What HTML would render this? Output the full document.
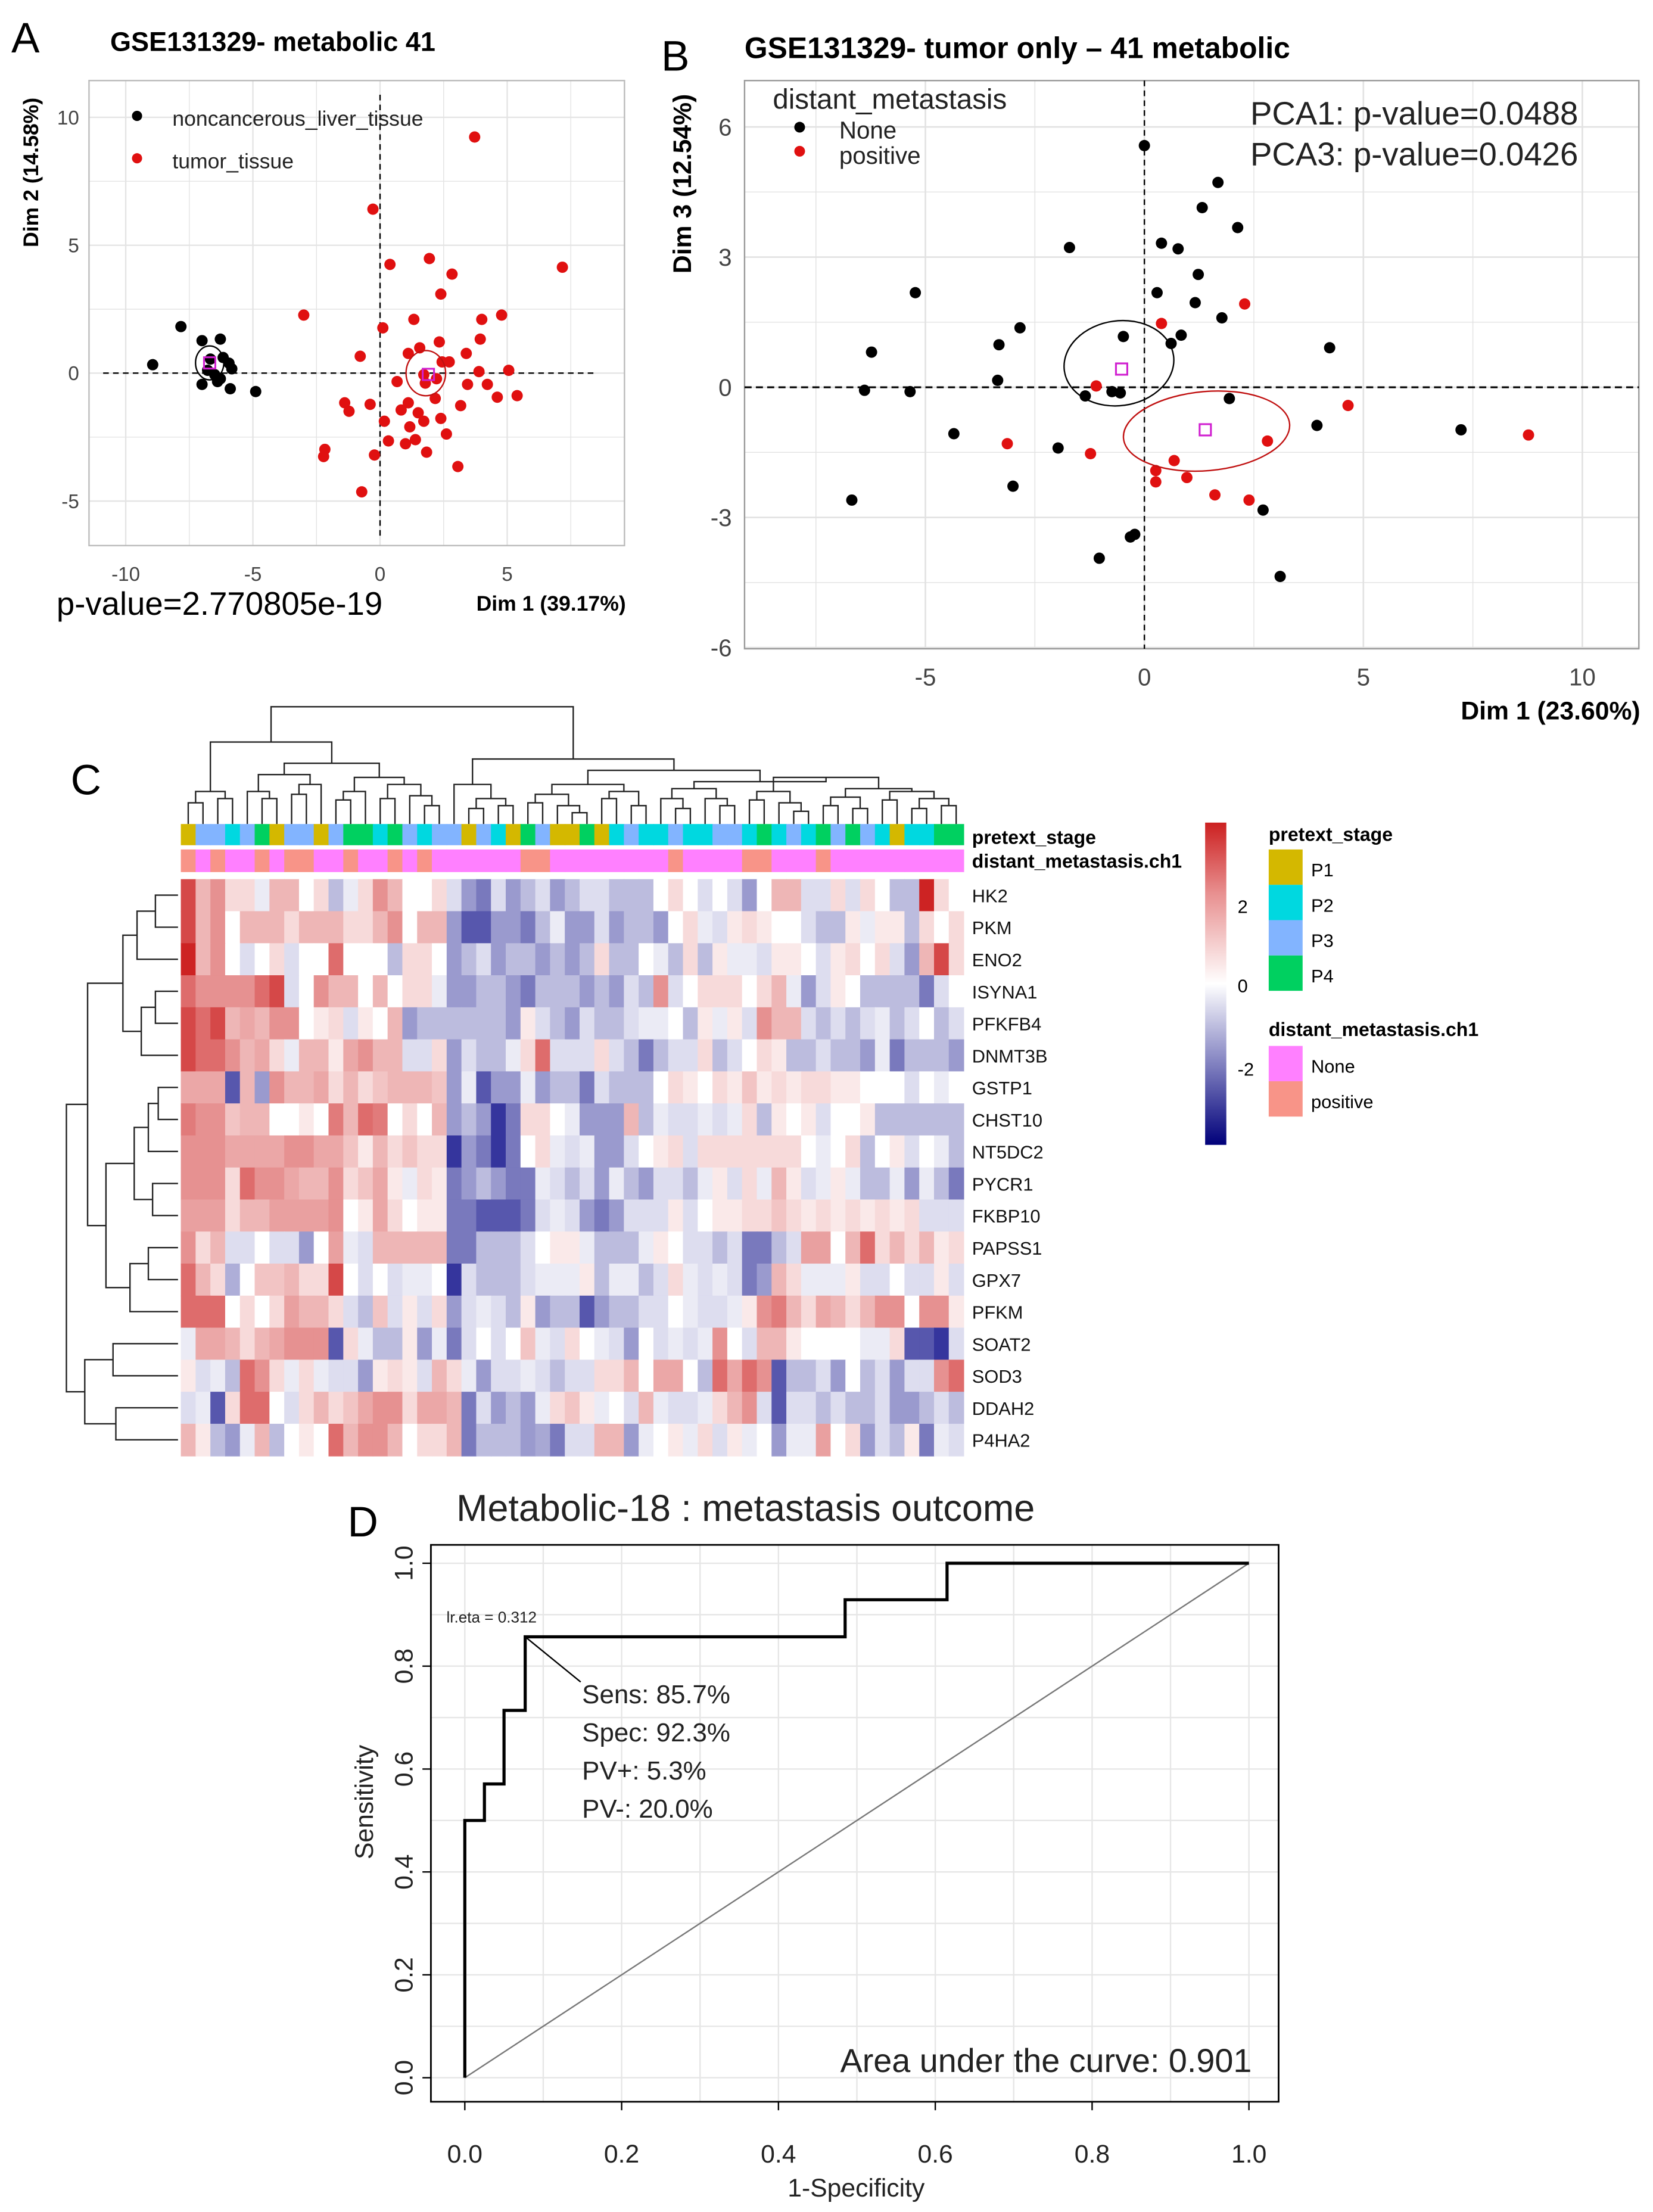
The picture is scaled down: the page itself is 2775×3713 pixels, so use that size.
<!DOCTYPE html>
<html><head><meta charset="utf-8"><style>
html,body{margin:0;padding:0;background:#fff;}
svg{display:block;font-family:"Liberation Sans",sans-serif;}
</style></head><body>
<svg id="fig" xmlns="http://www.w3.org/2000/svg" width="2775" height="3713" viewBox="0 0 1170 1565" preserveAspectRatio="none"></svg>
<script>
// ---------- Panel A data ----------
const aBlackX=[-8.94,-7.83,-7.0,-6.28,-6.17,-5.94,-5.83,-6.67,-6.78,-6.5,-7.0,-6.39,-6.28,-5.89,-4.89];
const aBlackY=[0.33,1.82,1.27,1.33,0.61,0.39,0.17,0.55,0.11,-0.06,-0.44,-0.33,-0.22,-0.61,-0.72];
const aRedX=[3.72,-0.28,0.39,1.94,2.83,2.39,-3.0,4.78,4.0,1.33,0.11,3.94,2.33,1.56,1.11,3.39,-0.78,2.72,3.89,5.06,1.72,2.22,0.67,1.78,3.44,4.22,5.39,-1.39,-0.39,1.11,3.17,0.83,1.5,2.39,-1.22,1.72,0.17,1.17,2.61,0.33,1.39,1.0,3.06,-2.17,-2.22,-0.22,1.83,-0.72,4.61,2.17,2.44,7.17];
const aRedY=[9.23,6.41,4.25,4.48,3.87,3.09,2.27,2.27,2.1,2.1,1.77,1.33,1.22,0.99,0.77,0.77,0.66,0.44,0.06,0.11,-0.06,-0.22,-0.33,-0.39,-0.44,-0.44,-0.88,-1.16,-1.22,-1.16,-1.27,-1.44,-1.55,-1.77,-1.49,-1.88,-1.88,-2.1,-2.38,-2.65,-2.6,-2.76,-3.65,-2.98,-3.26,-3.2,-3.09,-4.64,-0.94,-0.99,0.44,4.14];
const aXTicks=[-10,-5,0,5];
const aYTicks=[-5,0,5,10];
// ---------- Panel B data ----------
const bNoneX=[0,1.68,1.32,2.13,-1.71,0.39,0.77,1.23,-5.23,0.29,1.16,1.77,-2.84,-3.32,0.61,4.23,-6.23,-0.48,0.84,-3.35,-6.39,-5.35,-0.74,-0.55,-1.35,1.94,3.94,7.23,-4.35,-1.97,-3.0,-6.68,2.71,-0.32,-0.22,-1.03,3.1];
const bNoneY=[5.57,4.72,4.14,3.68,3.22,3.32,3.19,2.6,2.18,2.18,1.95,1.6,1.37,0.98,1.01,0.91,0.81,1.17,1.2,0.16,-0.07,-0.1,-0.1,-0.13,-0.2,-0.26,-0.88,-0.98,-1.07,-1.4,-2.28,-2.6,-2.83,-3.45,-3.39,-3.94,-4.36];
const bPosX=[2.29,0.39,-1.1,4.65,8.77,-3.13,-1.23,2.81,0.68,0.26,0.26,0.97,1.61,2.39];
const bPosY=[1.92,1.47,0.03,-0.42,-1.1,-1.3,-1.53,-1.24,-1.69,-1.92,-2.18,-2.08,-2.48,-2.6];
const bXTicks=[-5,0,5,10];
const bYTicks=[-6,-3,0,3,6];
// ---------- Panel C data ----------
const genes=["HK2","PKM","ENO2","ISYNA1","PFKFB4","DNMT3B","GSTP1","CHST10","NT5DC2","PYCR1","FKBP10","PAPSS1","GPX7","PFKM","SOAT2","SOD3","DDAH2","P4HA2"];
const stage=[1,3,3,2,3,4,1,3,3,1,3,4,4,2,4,3,2,3,3,1,3,2,1,4,3,1,1,4,1,2,3,2,2,3,2,2,3,3,2,4,2,3,2,4,3,4,3,2,1,2,2,4,4];
const metPositive=[0,2,5,7,8,11,14,16,23,24,33,38,39,43];
const expr=[
[2.5,1,1.5,.5,.5,-.3,1,1,0,.5,-1,-.3,.5,1.5,1,0,0,.5,-.5,-1.5,-2,-.5,-1.5,-1,-.5,-1.5,-1,-.5,-.5,-1,-1,-1,0,.5,0,-.5,0,-.5,-1.5,0,1,1,-.5,-.5,.5,-.5,.5,0,-1,-1,3,.5,0],
[2.5,1,1.5,0,1,1,1,.5,1,1,1,.5,.5,1,1.5,0,1,1,-1.5,-2.5,-2.5,-1.5,-1.5,-2,-1,-.3,-1.5,-1.5,-.5,-1.5,-1,-1,-1.5,0,.5,-.3,-.5,.3,.5,.3,0,0,-.5,-1,-1,.3,-.3,.3,.3,-1,.5,0,.5],
[3,1,1.5,0,-.5,0,.5,-.5,0,0,2,0,0,0,-1,.5,.5,0,-1.5,-1,-.5,-1.5,-1,-1,-1.5,-1,-1.5,-1,.5,-1,-1,0,-.3,-1,.5,-1,.3,-.3,-.3,-.5,.3,.3,0,-.5,.3,.5,0,.5,-.5,-1.5,1,2.5,.5],
[2,1.5,1.5,1.5,1.5,2,2.5,-.5,0,1.5,1,1,0,1,0,.5,.5,-.3,-1.5,-1.5,-1,-1,-1.5,-2,-1,-1,-1,-1.5,-1,-1.5,-.5,-1,1.5,-.5,0,.5,.5,.5,0,.5,1,-.3,-1.5,-.5,.3,0,-1,-1,-1,-1,-2,-.5,0],
[2.5,2,2.5,1,1.2,1,1.5,1.5,0,.3,.5,-.5,.3,0,1,-1.5,-1,-1,-1,-1,-1,-1,-1.5,.3,-.5,-1,-1.5,-.5,-1,-1,-.5,-.3,-.3,0,-1,.3,-.3,.3,-.5,1.5,1,1,-.5,-1,-.5,-1,-.5,-.3,-1,-.5,0,-1,-.5],
[2.5,2,2,1.5,1,1.2,.5,-.3,1,1,.3,1.2,1.5,1,1,-.5,-.5,.5,-1.5,-.5,-1,-1,-.3,.5,2,-.5,-.5,-.5,.5,-.5,-1,-2,-1,-.5,-.5,.5,-1,-.5,0,.5,.3,-1,-1,-.5,-1,-1,-1.5,-.3,-2,-1,-1,-1,-1.5],
[1.2,1.2,1.2,-2.5,1,-1.5,1.5,1,1,1.2,.5,1,.5,.8,1,1,1,.8,-1.5,-.3,-2.5,-1.5,-1.5,-.3,-1.5,-1,-1,-2,-.5,-1,-1,-1,0,.5,.3,0,.5,.3,.8,.3,.5,.3,.5,.5,.3,.3,0,0,0,-.5,0,-.3,0],
[1.8,1.5,1.5,.8,1,1,0,0,.3,0,1.8,1,2,1.8,0,.5,0,1,-1.5,-1,-1.5,-3,-2,.5,.5,0,-.3,-1.5,-1.5,-1.5,1,-1,-.3,-.5,-.5,-.3,-.5,-.3,.5,-1,.3,0,.3,-.5,0,0,.3,-1,-1,-1,-1,-1,-1],
[1.5,1.5,1.5,1.2,1.2,1.2,1.2,1.5,1.5,1.2,1.2,.8,.3,1,.5,.8,.5,.5,-3,-1.5,-2,-3,-2,0,.5,-.3,-.5,-.3,-1.5,-1.5,-.5,0,.3,.5,-.5,.5,.5,.5,.5,.5,.5,.5,0,-.3,0,.5,-1,0,.3,-.5,0,-.3,-1],
[1.5,1.5,1.5,.5,2,1.5,1.5,1.2,1,1,1.5,.5,.8,1.2,.3,-.3,.5,.3,-2,-1.5,-1,-1.5,-2,-2,-.3,-.5,-1,-.5,-1.5,-.3,-1,-1.5,-.5,-.5,-1,-.3,.3,-.5,.5,-.3,1,.3,-.5,-.3,.3,-.3,-1,-1,-.3,-1.5,-.3,-1,-2],
[1.3,1.3,1.3,.5,1,1,1.3,1.3,1.3,1.3,1.5,0,.3,1.2,.5,0,.3,.3,-2,-2,-2.5,-2.5,-2.5,-2,-.5,-.3,-.5,-1.5,-2,-1.5,-.5,-.5,-.5,.3,-.5,0,.3,.3,.5,.5,.8,.5,.3,.5,.3,.5,.3,.5,.3,.5,-.5,-.5,-.5],
[1.5,.5,1,-.5,-.5,0,-.5,-.5,-1.5,0,1.3,-.3,-.5,1,1,1,1,1,-2,-2,-1,-1,-1,-.5,0,.3,.3,-.3,-1,-1,-1,-.3,.3,0,-.5,-.5,-1,-.5,-2,-2,-1,-.5,1.3,1.3,0,1,2,.5,1,.5,1,.3,.5],
[2,1,.5,-1.2,0,.8,.8,1,.5,.5,2.5,0,-.5,0,-.5,-.3,-.3,0,-3,-.5,-1,-1,-1,-.5,-.3,-.3,-.3,.3,-1,-.3,-.3,-1,-.5,.5,-.3,-.5,-.3,-.5,-2,-1.5,1,.5,-.3,-.3,-.3,.3,-.5,-.5,0,-.5,-.5,.3,-.5],
[2,2,2,0,.5,0,.5,1.3,1,1,.5,-.5,-1,.8,-.5,.3,-.5,.5,-1.5,-.5,-.3,-.5,-1,.3,-1.5,-1,-1,-2.5,-1.5,-1,-1,-.5,-.5,0,-.3,-.5,-.5,-.3,.3,1.5,1.8,1,.5,1.2,1,.5,1,1.5,1.5,0,1.5,1.5,.3],
[-.3,1.2,1.2,1,.5,1,1.2,1.5,1.5,1.5,-2.5,.5,-.3,-1,-1,.3,-1.5,-.3,-2,-.5,0,-.5,0,.8,-.3,-.5,.5,0,-.3,-.5,-1.5,0,-.5,-.3,-.5,-.3,1.5,0,-.5,1,1,.3,0,0,0,0,-.3,-.3,.5,-2.5,-2.5,-3,-.5],
[.3,-.5,-.3,-1,2,1.5,.5,-.3,.5,-.3,-.5,-.5,-1.5,.3,.5,.3,-.5,1,.5,-.3,-1.5,-.5,-.5,-.3,-.5,-1,-.5,-.5,.5,.5,1,0,1.2,1.2,0,-1,2,1.2,2,1.5,-2.5,-1,-1,-.5,-1.5,0,-1,-.5,-1.5,-.5,-.5,1.5,2],
[-.5,-.3,-2.5,.5,2,2,0,-.5,.5,1,.5,.8,1.2,1.5,1.5,.5,1.2,1.2,1,-2,-.5,-1.5,-1,-1.5,-.3,.5,.8,.3,-.3,0,-.5,1,-.3,-.5,-.5,-.3,.5,1,1.5,-.5,-2.5,-.5,-.5,-1,-.5,-1,-1,-.5,-1.5,-1.5,-1,-.5,-1],
[1,.3,-1,-1.5,-.3,1,-1,0,.3,0,2,1,1.5,1.5,1,0,.5,.5,1,-2,-1,-1,-1,-1.5,-1.3,-2,-.5,-.5,1,1,-1.5,-.3,0,.3,-.3,.5,-.5,.3,-.3,0,-1.5,-.3,-.3,1.3,0,.5,-1.5,-.5,-1,.3,-2,-.3,-.5]
];
const colTree=[500,[525,[560,[568,0,1],[565,2,3]],[540,[548,[560,4,[565,5,6]],[555,[562,7,8],9]],[550,[560,[566,10,11],12],[555,[565,13,14],[563,15,[570,16,17]]]]]],[537,[555,18,[565,[572,19,20],[570,21,22]]],[545,[555,[562,[568,23,24],[570,25,[575,26,27]]],[560,[565,28,29],[570,30,31]]],[553,[558,[565,32,[572,33,34]],[565,35,[570,36,37]]],[550,[560,[566,38,39],[568,40,[574,41,42]]],[558,[564,[570,43,44],[572,45,46]],[560,[566,47,48],[565,[572,49,50],[570,51,52]]]]]]]]];
const rowTree=[47,[62,[87,[97,[110,0,1],2],[100,[110,3,4],5]],[75,[95,[105,[112,6,7],8],[108,9,10]],[92,[105,11,12],13]]],[60,[80,14,15],[82,16,17]]];
// ---------- Panel D data ----------
const rocFpr=[0,0,0.025,0.025,0.05,0.05,0.077,0.077,0.485,0.485,0.615,0.615,1];
const rocTpr=[0,0.5,0.5,0.571,0.571,0.714,0.714,0.857,0.857,0.929,0.929,1,1];
const dTicks=[0,0.2,0.4,0.6,0.8,1.0];

const NS="http://www.w3.org/2000/svg";
const svg=document.getElementById('fig');
function mk(tag,attrs,parent){const e=document.createElementNS(NS,tag);for(const k in attrs)e.setAttribute(k,attrs[k]);(parent||svg).appendChild(e);return e;}
function txt(s,attrs,parent){const e=mk('text',attrs,parent);e.textContent=s;return e;}
function grp(){return mk('g',{});}

// ================= PANEL A =================
const A={x0:63,x1:442,y0:57,y1:386};
const ax=v=>269+v*18.0, ay=v=>264-v*18.1;
let gA=grp();


let t=txt('A',{x:8,y:37,'font-size':30},gA);


t=txt('GSE131329- metabolic 41',{x:78,y:36,'font-size':19,'font-weight':'bold'},gA);


for(let v=-10;v<=7.5;v+=2.5){let l=mk('line',{x1:ax(v),x2:ax(v),y1:A.y0,y2:A.y1,stroke:'#e4e4e4','stroke-width':v%5===0?1:0.6},gA);

}
for(let v=-5;v<=10;v+=2.5){let l=mk('line',{x1:A.x0,x2:A.x1,y1:ay(v),y2:ay(v),stroke:'#e4e4e4','stroke-width':v%5===0?1:0.6},gA);

}
let r=mk('rect',{x:A.x0,y:A.y0,width:A.x1-A.x0,height:A.y1-A.y0,fill:'none',stroke:'#bbb','stroke-width':1},gA);


let l=mk('line',{x1:A.x0+10,x2:A.x1-20,y1:ay(0),y2:ay(0),stroke:'#000','stroke-dasharray':'4,3'},gA);


l=mk('line',{x1:ax(0),x2:ax(0),y1:A.y0+10,y2:A.y1-5,stroke:'#000','stroke-dasharray':'4,3'},gA);


aXTicks.forEach(v=>{let e=txt(String(v),{x:ax(v),y:411,'font-size':14,fill:'#444','text-anchor':'middle'},gA);

});
aYTicks.forEach(v=>{let e=txt(String(v),{x:56,y:ay(v)+5,'font-size':14,fill:'#444','text-anchor':'end'},gA);

});
aBlackX.forEach((x,i)=>{let c=mk('circle',{cx:ax(x),cy:ay(aBlackY[i]),r:4,fill:'#000'},gA);

});
aRedX.forEach((x,i)=>{let c=mk('circle',{cx:ax(x),cy:ay(aRedY[i]),r:4,fill:'#e01010'},gA);

});
let e=mk('ellipse',{cx:ax(-6.7),cy:ay(0.4),rx:10,ry:12,fill:'none',stroke:'#000'},gA);


e=mk('ellipse',{cx:ax(1.8),cy:ay(0),rx:14,ry:16,fill:'none',stroke:'#c01010'},gA);


[[-6.7,0.4],[1.9,-0.05]].forEach(p=>{let q=mk('rect',{x:ax(p[0])-4,y:ay(p[1])-4,width:8,height:8,fill:'none',stroke:'#d020d0','stroke-width':1.3},gA);

});
e=mk('circle',{cx:97,cy:82,r:3.6,fill:'#000'},gA);


t=txt('noncancerous_liver_tissue',{x:122,y:89,'font-size':15,fill:'#222'},gA);


e=mk('circle',{cx:97,cy:112,r:3.6,fill:'#e01010'},gA);


t=txt('tumor_tissue',{x:122,y:119,'font-size':15,fill:'#222'},gA);


t=txt('p-value=2.770805e-19',{x:40,y:435,'font-size':23},gA);


t=txt('Dim 1 (39.17%)',{x:443,y:432,'font-size':15,'font-weight':'bold','text-anchor':'end'},gA);


t=txt('Dim 2 (14.58%)',{x:0,y:0,'font-size':15,'font-weight':'bold','text-anchor':'middle',transform:'translate(27,122) rotate(-90)'},gA);



// ================= PANEL B =================
const B={x0:527,x1:1160,y0:57,y1:459};
const bx=v=>810+v*31.0, by=v=>274-v*30.7;
let gB=grp();


t=txt('B',{x:468,y:50,'font-size':30},gB);


t=txt('GSE131329- tumor only – 41 metabolic',{x:527,y:41,'font-size':21,'font-weight':'bold'},gB);


for(let v=-7.5;v<=12.5;v+=2.5){if(bx(v)<B.x0||bx(v)>B.x1)continue;let g=mk('line',{x1:bx(v),x2:bx(v),y1:B.y0,y2:B.y1,stroke:'#e2e2e2','stroke-width':v%5===0?1.1:0.6},gB);

}
for(let v=-6;v<=6;v+=1.5){let g=mk('line',{x1:B.x0,x2:B.x1,y1:by(v),y2:by(v),stroke:'#e2e2e2','stroke-width':v%3===0?1.1:0.6},gB);

}
r=mk('rect',{x:B.x0,y:B.y0,width:B.x1-B.x0,height:B.y1-B.y0,fill:'none',stroke:'#999','stroke-width':1},gB);


l=mk('line',{x1:B.x0,x2:B.x1,y1:by(0),y2:by(0),stroke:'#000','stroke-dasharray':'5,3','stroke-width':1.3},gB);


l=mk('line',{x1:bx(0),x2:bx(0),y1:B.y0,y2:B.y1,stroke:'#000','stroke-dasharray':'4,3'},gB);


bXTicks.forEach(v=>{let q=txt(String(v),{x:bx(v),y:485,'font-size':17,fill:'#444','text-anchor':'middle'},gB);

});
bYTicks.forEach(v=>{let q=txt(String(v),{x:518,y:by(v)+6,'font-size':17,fill:'#444','text-anchor':'end'},gB);

});
bNoneX.forEach((x,i)=>{let c=mk('circle',{cx:bx(x),cy:by(bNoneY[i]),r:4,fill:'#000'},gB);

});
bPosX.forEach((x,i)=>{let c=mk('circle',{cx:bx(x),cy:by(bPosY[i]),r:4,fill:'#e01010'},gB);

});
e=mk('ellipse',{cx:792,cy:257,rx:39,ry:30,fill:'none',stroke:'#000',transform:'rotate(-8 792 257)'},gB);


e=mk('ellipse',{cx:854,cy:305,rx:59,ry:28,fill:'none',stroke:'#c01010',transform:'rotate(-5 854 305)'},gB);


[[-0.52,0.42],[1.39,-0.98]].forEach(p=>{let q=mk('rect',{x:bx(p[0])-4,y:by(p[1])-4,width:8,height:8,fill:'none',stroke:'#d020d0','stroke-width':1.3},gB);

});
t=txt('distant_metastasis',{x:547,y:77,'font-size':20,fill:'#222'},gB);


e=mk('circle',{cx:566,cy:90,r:3.8,fill:'#000'},gB);


t=txt('None',{x:594,y:98,'font-size':17,fill:'#222'},gB);


e=mk('circle',{cx:566,cy:107,r:3.8,fill:'#e01010'},gB);


t=txt('positive',{x:594,y:116,'font-size':17,fill:'#222'},gB);


t=txt('PCA1: p-value=0.0488',{x:885,y:88,'font-size':23,fill:'#222'},gB);


t=txt('PCA3: p-value=0.0426',{x:885,y:117,'font-size':23,fill:'#222'},gB);


t=txt('Dim 1 (23.60%)',{x:1161,y:509,'font-size':18,'font-weight':'bold','text-anchor':'end'},gB);


t=txt('Dim 3 (12.54%)',{x:0,y:0,'font-size':18,'font-weight':'bold','text-anchor':'middle',transform:'translate(489,130) rotate(-90)'},gB);



// ================= PANEL C =================
let gC=grp();


t=txt('C',{x:50,y:562,'font-size':30},gC);


const HX=128,HW=554,HY=622,HH=408;
const nc=expr[0].length, nr=genes.length;
const cw=HW/nc, rh=HH/nr;
const colX=i=>HX+i*cw, rowY=j=>HY+j*rh;
function heatColor(v){
  if(v>=0){const k=Math.min(v/3,1);return `rgb(${Math.round(255-50*k)},${Math.round(255-220*k)},${Math.round(255-220*k)})`;}
  const k=Math.min(-v/3.2,1);return `rgb(${Math.round(255-215*k)},${Math.round(255-215*k)},${Math.round(255-105*k)})`;
}
expr.forEach((row,j)=>row.forEach((v,i)=>{let c=mk('rect',{x:colX(i),y:rowY(j),width:cw+0.4,height:rh+0.4,fill:heatColor(v)},gC);

}));
const stageColors={1:'#d4b800',2:'#00d8e0',3:'#82b4ff',4:'#00d060'};
stage.forEach((s,i)=>{let c=mk('rect',{x:colX(i),y:583,width:cw+0.4,height:15,fill:stageColors[s]},gC);

});
for(let i=0;i<nc;i++){let c=mk('rect',{x:colX(i),y:601,width:cw+0.4,height:16,fill:metPositive.includes(i)?'#f89488':'#ff80ff'},gC);

}
genes.forEach((g,j)=>{let q=txt(g,{x:688,y:rowY(j)+rh/2+5,'font-size':13,fill:'#111'},gC);

});
t=txt('pretext_stage',{x:688,y:597,'font-size':13.5,'font-weight':'bold'},gC);


t=txt('distant_metastasis.ch1',{x:688,y:614,'font-size':13.5,'font-weight':'bold'},gC);


function drawCol(n){
  if(typeof n==='number') return {x:colX(n)+cw/2,h:583};
  const a=drawCol(n[1]), b=drawCol(n[2]);
  let p=mk('path',{d:`M${a.x},${a.h}V${n[0]}H${b.x}V${b.h}`,fill:'none',stroke:'#222','stroke-width':1},gC);
  
  
  return {x:(a.x+b.x)/2,h:n[0]};
}
drawCol(colTree);
function drawRow(n){
  if(typeof n==='number') return {y:rowY(n)+rh/2,x:126};
  const a=drawRow(n[1]), b=drawRow(n[2]);
  let p=mk('path',{d:`M${a.x},${a.y}H${n[0]}V${b.y}H${b.x}`,fill:'none',stroke:'#222','stroke-width':1},gC);
  
  
  return {y:(a.y+b.y)/2,x:n[0]};
}
drawRow(rowTree);
let defs=mk('defs',{});
let lg=mk('linearGradient',{id:'cbar',x1:0,y1:0,x2:0,y2:1},defs);
[['0','#cc2020'],['0.22','#e89090'],['0.5','#ffffff'],['0.72','#9090c8'],['1','#00007a']].forEach(s=>mk('stop',{offset:s[0],'stop-color':s[1]},lg));
r=mk('rect',{x:853,y:582,width:15,height:228,fill:'url(#cbar)'},gC);


[['2',646],['0',702],['-2',761]].forEach(s=>{let q=txt(s[0],{x:876,y:s[1],'font-size':13},gC);

});
t=txt('pretext_stage',{x:898,y:595,'font-size':13.5,'font-weight':'bold'},gC);


[1,2,3,4].forEach((s,k)=>{let q=mk('rect',{x:898,y:601+k*25,width:24,height:25,fill:stageColors[s]},gC);


let u=txt('P'+s,{x:928,y:620+k*25,'font-size':13},gC);

});
t=txt('distant_metastasis.ch1',{x:898,y:733,'font-size':13.5,'font-weight':'bold'},gC);


[['None','#ff80ff'],['positive','#f89488']].forEach((s,k)=>{let q=mk('rect',{x:898,y:740+k*25,width:24,height:25,fill:s[1]},gC);


let u=txt(s[0],{x:928,y:759+k*25,'font-size':13},gC);

});

// ================= PANEL D =================
const D={x0:305,x1:905,y0:1093,y1:1487};
const dx=v=>329+v*555, dy=v=>1470-v*364;
let gD=grp();


t=txt('D',{x:246,y:1087,'font-size':30},gD);


t=txt('Metabolic-18 : metastasis outcome',{x:323,y:1076,'font-size':26.5,fill:'#222'},gD);


for(let k=0;k<=10;k++){const v=k/10;
let g1=mk('line',{x1:dx(v),x2:dx(v),y1:D.y0,y2:D.y1,stroke:'#e6e6e6','stroke-width':1},gD);


let g2=mk('line',{x1:D.x0,x2:D.x1,y1:dy(v),y2:dy(v),stroke:'#e6e6e6','stroke-width':1},gD);

}
r=mk('rect',{x:D.x0,y:D.y0,width:D.x1-D.x0,height:D.y1-D.y0,fill:'none',stroke:'#000','stroke-width':1.2},gD);


l=mk('line',{x1:dx(0),y1:dy(0),x2:dx(1),y2:dy(1),stroke:'#777','stroke-width':1},gD);


let pd=rocFpr.map((f,i)=>(i?'L':'M')+dx(f)+','+dy(rocTpr[i])).join('');
let roc=mk('path',{d:pd,fill:'none',stroke:'#000','stroke-width':2.2},gD);


dTicks.forEach(v=>{
let a1=mk('line',{x1:dx(v),x2:dx(v),y1:D.y1,y2:D.y1+6,stroke:'#000'},gD);


let q=txt(v.toFixed(1),{x:dx(v),y:1530,'font-size':18,fill:'#222','text-anchor':'middle'},gD);


let a2=mk('line',{x1:D.x0-6,x2:D.x0,y1:dy(v),y2:dy(v),stroke:'#000'},gD);


let u=txt(v.toFixed(1),{x:0,y:0,'font-size':18,fill:'#222','text-anchor':'middle',transform:`translate(292,${dy(v)}) rotate(-90)`},gD);

});
t=txt('1-Specificity',{x:606,y:1554,'font-size':18,fill:'#222','text-anchor':'middle'},gD);


t=txt('Sensitivity',{x:0,y:0,'font-size':18,fill:'#222','text-anchor':'middle',transform:'translate(264,1275) rotate(-90)'},gD);


t=txt('lr.eta = 0.312',{x:316,y:1148,'font-size':11,fill:'#222'},gD);


l=mk('line',{x1:dx(0.077),y1:dy(0.857),x2:411,y2:1190,stroke:'#000','stroke-width':1},gD);


['Sens: 85.7%','Spec: 92.3%','PV+: 5.3%','PV-: 20.0%'].forEach((s,k)=>{let q=txt(s,{x:412,y:1205+k*27,'font-size':18.5,fill:'#222'},gD);

});
t=txt('Area under the curve: 0.901',{x:886,y:1466,'font-size':23.5,fill:'#222','text-anchor':'end'},gD);


</script>
</body></html>
